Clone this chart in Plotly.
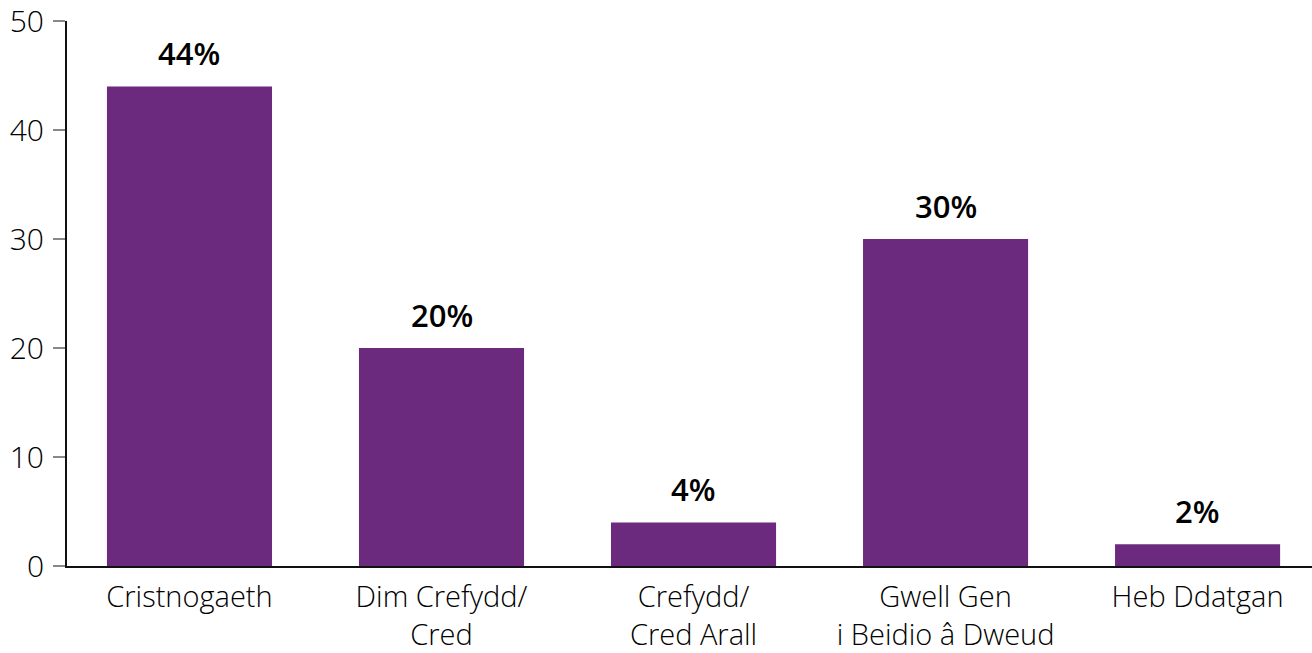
import plotly.graph_objects as go

categories = ["Cristnogaeth", "Dim Crefydd/<br>Cred", "Crefydd/<br>Cred Arall",
              "Gwell Gen<br>i Beidio â Dweud", "Heb Ddatgan"]
values = [44, 20, 4, 30, 2]
value_labels = ["44%", "20%", "4%", "30%", "2%"]
y_ticks = [0, 10, 20, 30, 40, 50]

xpos = list(range(len(categories)))

fig = go.Figure(go.Bar(
    x=xpos, y=values, width=0.655,
    marker=dict(color="#6b2a7e", line=dict(width=0)),
    cliponaxis=False, hoverinfo="skip",
))

for xi, v, lab in zip(xpos, values, value_labels):
    fig.add_annotation(x=xi, y=v, text=lab, showarrow=False,
                       yanchor="bottom", yshift=10,
                       font=dict(family="Open Sans", size=31, color="#000", weight=600))

fig.update_layout(
    width=1312, height=653,
    margin=dict(l=67, r=0, t=21, b=87),
    paper_bgcolor="white", plot_bgcolor="white",
    showlegend=False,
    font=dict(family="Open Sans", size=29, color="#000"),
    xaxis=dict(
        range=[-0.486, 4.454], automargin=False,
        tickmode="array", tickvals=xpos, ticktext=categories,
        showline=True, linecolor="#111", linewidth=2,
        showgrid=False, zeroline=False, ticks="",
        ticklabelstandoff=4, ticklabeloverflow="allow",
        tickfont=dict(family="Open Sans", size=29, color="#000", weight=300),
    ),
    yaxis=dict(
        range=[0, 50], automargin=False,
        tickmode="array", tickvals=y_ticks,
        showline=True, linecolor="#111", linewidth=2,
        showgrid=False, zeroline=False,
        ticks="outside", ticklen=12, tickcolor="#888", tickwidth=1.5,
        ticklabelstandoff=3, ticklabeloverflow="allow",
        tickfont=dict(family="Open Sans", size=30, color="#000", weight=300),
    ),
)

fig.write_html("out.html", config={"displayModeBar": False},
               post_script="document.body.style.margin='0px';")
